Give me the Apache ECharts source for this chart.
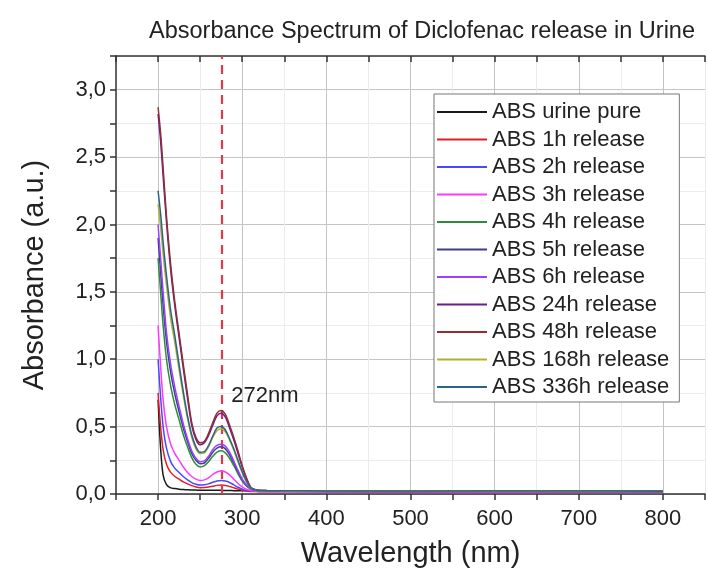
<!DOCTYPE html>
<html><head><meta charset="utf-8">
<script src="https://cdn.jsdelivr.net/npm/echarts@6/dist/echarts.min.js"></script>
<style>html,body{margin:0;padding:0;background:#fff}#c{width:708px;height:578px}</style>
</head><body><div id="c"></div><script>
// ---- data ----
const wavelengths = [200,203,206,210,215,220,225,230,235,240,245,250,255,260,265,270,275,280,285,290,295,300,305,310,315,320,330,350,400,500,600,700,800];
const seriesNames = ['ABS urine pure','ABS 1h release','ABS 2h release','ABS 3h release','ABS 4h release','ABS 5h release','ABS 6h release','ABS 24h release','ABS 48h release','ABS 168h release','ABS 336h release'];
const absPure = [0.70,0.34,0.14,0.07,0.045,0.040,0.036,0.033,0.031,0.030,0.029,0.028,0.028,0.027,0.027,0.027,0.027,0.026,0.026,0.025,0.025,0.024,0.024,0.023,0.023,0.022,0.021,0.021,0.019,0.017,0.016,0.015,0.014];
const abs1h = [0.75,0.50,0.33,0.22,0.16,0.13,0.11,0.09,0.075,0.062,0.052,0.047,0.048,0.052,0.058,0.064,0.066,0.063,0.056,0.046,0.036,0.028,0.022,0.019,0.018,0.017,0.017,0.016,0.016,0.015,0.015,0.014,0.014];
const abs2h = [1.00,0.72,0.50,0.34,0.24,0.19,0.16,0.13,0.105,0.085,0.072,0.066,0.068,0.075,0.087,0.097,0.100,0.096,0.085,0.068,0.050,0.036,0.027,0.022,0.020,0.019,0.018,0.018,0.017,0.017,0.016,0.016,0.015];
const abs3h = [1.25,0.95,0.70,0.50,0.37,0.30,0.25,0.20,0.16,0.13,0.11,0.10,0.105,0.12,0.145,0.163,0.170,0.163,0.142,0.110,0.078,0.052,0.035,0.026,0.022,0.020,0.019,0.019,0.018,0.018,0.017,0.017,0.016];
const abs4h = [1.75,1.50,1.25,1.00,0.80,0.66,0.55,0.44,0.35,0.27,0.22,0.20,0.21,0.24,0.28,0.31,0.32,0.305,0.265,0.21,0.15,0.095,0.06,0.038,0.028,0.024,0.022,0.021,0.021,0.020,0.020,0.019,0.019];
const abs5h = [1.90,1.65,1.40,1.13,0.90,0.74,0.61,0.49,0.39,0.30,0.25,0.225,0.23,0.265,0.31,0.34,0.35,0.335,0.29,0.23,0.165,0.105,0.065,0.040,0.030,0.025,0.023,0.022,0.022,0.021,0.021,0.020,0.020];
const abs6h = [2.00,1.75,1.50,1.20,0.96,0.79,0.65,0.52,0.41,0.32,0.265,0.24,0.245,0.28,0.33,0.36,0.37,0.355,0.31,0.245,0.175,0.11,0.068,0.042,0.031,0.026,0.024,0.023,0.022,0.022,0.021,0.021,0.020];
const abs24h = [2.82,2.62,2.36,2.02,1.66,1.39,1.16,0.93,0.71,0.51,0.405,0.365,0.38,0.435,0.51,0.58,0.60,0.57,0.49,0.40,0.30,0.20,0.115,0.05,0.032,0.026,0.025,0.024,0.023,0.023,0.022,0.022,0.021];
const abs48h = [2.87,2.68,2.42,2.06,1.70,1.42,1.19,0.96,0.74,0.53,0.42,0.38,0.39,0.45,0.53,0.60,0.62,0.59,0.51,0.42,0.32,0.21,0.12,0.05,0.033,0.027,0.025,0.024,0.023,0.023,0.022,0.022,0.021];
const abs168h = [2.15,1.98,1.78,1.55,1.30,1.12,0.92,0.73,0.56,0.42,0.335,0.30,0.305,0.35,0.42,0.47,0.485,0.46,0.40,0.325,0.24,0.16,0.09,0.045,0.030,0.025,0.024,0.023,0.022,0.022,0.021,0.021,0.020];
const abs336h = [2.25,2.08,1.87,1.62,1.36,1.17,0.96,0.76,0.58,0.44,0.35,0.31,0.315,0.36,0.43,0.49,0.50,0.475,0.41,0.335,0.25,0.165,0.095,0.047,0.031,0.026,0.025,0.024,0.023,0.023,0.022,0.022,0.021];
const seriesValues = [absPure, abs1h, abs2h, abs3h, abs4h, abs5h, abs6h, abs24h, abs48h, abs168h, abs336h];
const peakWavelength = 276;
const peakLabel = '272nm';
const peakLabelAnchor = [287, 0.73];
const chartTitle = 'Absorbance Spectrum of Diclofenac release in Urine';

// ---- styles ----
const palette = ['#1a1a1a','#e01e2a','#4848ff','#ff38ff','#2e8b3e','#3e3e86','#9a40ff','#6c1c8c','#8e2f36','#b0b032','#2c6488'];
const FONT = '"Liberation Sans", Arial, sans-serif';
const TXT = '#222';
const AX = '#333';

const series = seriesNames.map((name, i) => ({
  name, type: 'line', symbol: 'none', showSymbol: false, smooth: 0.3,
  lineStyle: { width: 1.5, color: palette[i] }, itemStyle: { color: palette[i] },
  data: wavelengths.map((w, k) => [w, seriesValues[i][k]]),
  z: 2 + i
}));
series[series.length - 1].markLine = {
  silent: true, symbol: 'none', label: { show: false },
  lineStyle: { color: '#e0384f', type: [9, 6], width: 2.2 },
  data: [{ xAxis: peakWavelength }]
};
series[series.length - 1].markPoint = {
  symbol: 'circle', symbolSize: 0, silent: true,
  label: { show: true, position: 'right', distance: 0, formatter: peakLabel, fontSize: 22, color: TXT, fontFamily: FONT },
  data: [{ coord: peakLabelAnchor }]
};

const chart = echarts.init(document.getElementById('c'), null, { renderer: 'canvas' });
chart.setOption({
  backgroundColor: '#fff',
  animation: false,
  title: { text: chartTitle, left: 144, top: 15, textStyle: { fontSize: 23.5, fontWeight: 'normal', color: TXT, fontFamily: FONT } },
  grid: { left: 116, right: -5, top: 56, bottom: 84, containLabel: false },
  legend: {
    orient: 'vertical', left: 434, top: 94, padding: [7, 10, 4, 3],
    itemWidth: 50, itemHeight: 2, itemGap: 5.5, icon: 'rect',
    backgroundColor: '#fff', borderColor: '#777', borderWidth: 1,
    textStyle: { fontSize: 22, color: TXT, lineHeight: 22, fontFamily: FONT },
    data: seriesNames
  },
  xAxis: [
    {
      type: 'value', min: 150, max: 850, interval: 50, position: 'bottom',
      axisLine: { show: true, onZero: false, lineStyle: { color: AX, width: 1.5 } },
      axisTick: { show: true, length: 6, lineStyle: { color: AX, width: 1.5 } },
      axisLabel: { fontSize: 22, color: TXT, margin: 14, fontFamily: FONT,
        formatter: v => (v % 100 === 0 && v > 150 && v < 850) ? String(v) : '' },
      splitLine: { show: true, lineStyle: { color: ['#ececec', '#c4c4c4'], width: 1 } },
      name: 'Wavelength (nm)', nameLocation: 'middle', nameGap: 45,
      nameTextStyle: { fontSize: 29, color: TXT, fontFamily: FONT }
    },
    {
      type: 'value', min: 150, max: 850, interval: 50, position: 'top',
      axisLine: { show: true, onZero: false, lineStyle: { color: AX, width: 1.5 } },
      axisTick: { show: true, inside: true, length: 6, lineStyle: { color: AX, width: 1.5 } },
      axisLabel: { show: false }, splitLine: { show: false }
    }
  ],
  yAxis: [{
    type: 'value', min: 0, max: 3.25, interval: 0.25,
    axisLine: { show: true, onZero: false, lineStyle: { color: AX, width: 1.5 } },
    axisTick: { show: true, length: 6, lineStyle: { color: AX, width: 1.5 } },
    axisLabel: { fontSize: 22, color: TXT, margin: 10, fontFamily: FONT,
      formatter: v => (Math.round(v * 100) % 50 === 0) ? v.toFixed(1).replace('.', ',') : '' },
    splitLine: { show: true, lineStyle: { color: ['#c4c4c4', '#ececec'], width: 1 } },
    name: 'Absorbance (a.u.)', nameLocation: 'middle', nameGap: 67, nameRotate: 90,
    nameTextStyle: { fontSize: 29, color: TXT, fontFamily: FONT }
  }],
  series
});
</script></body></html>
